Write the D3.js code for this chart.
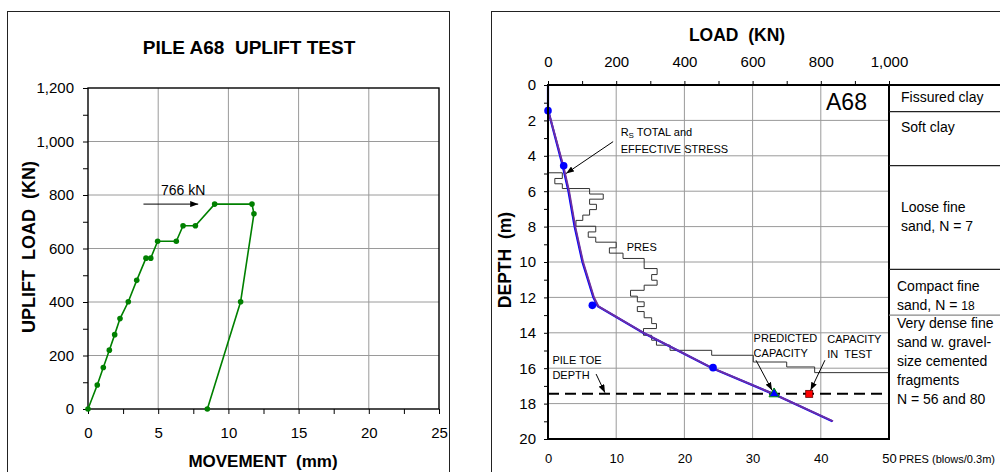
<!DOCTYPE html>
<html lang="en">
<head>
<title>Pile A68 uplift test</title>
<script src="https://d3js.org/d3.v7.min.js"></script>
<style>
    body { margin: 0; background: #fff; }
    svg text { font-family: "Liberation Sans", Arial, sans-serif; fill: #000; }
    .pre { white-space: pre; }
</style>
</head>
<body>
<svg id="chart" width="1000" height="472"></svg>
<script type="text/javascript">

// ---- left chart: uplift load vs movement ----
var movement   = [0, 0.66, 1.09, 1.52, 1.90, 2.28, 2.87, 3.47, 4.13, 4.47, 4.96, 6.29, 6.77, 7.65, 9.02, 11.68, 11.82, 10.87, 8.50];
var upliftLoad = [0, 90, 155, 220, 278, 338, 401, 481, 564, 564, 627, 627, 685, 685, 766, 766, 730, 401, 0];
var loadTicks = [0, 200, 400, 600, 800, 1000, 1200];
var movementTicks = [0, 5, 10, 15, 20, 25];

// ---- right chart: load / PRES vs depth ----
var curveDepth  = [0, 1.4, 4.56, 6, 8, 10, 12, 12.5, 14, 16, 17.45, 19];
var rsTotal     = [0, 0, 43, 60, 78, 101, 133, 146, 279, 482, 660, 834];
var rsEffective = [0, 0, 45, 62, 80, 103, 135, 148, 280, 483, 661, 836];
var pointDepth = [1.45, 4.56, 12.45, 15.97];
var pointLoad  = [0, 46, 130, 484];
var presDepth = [4.96, 4.96, 5.28, 5.58, 5.85, 6.16, 6.45, 6.74, 7.04, 7.35, 7.65, 7.98, 8.30, 8.60, 8.88, 9.20, 9.50, 9.80,
                 10.37, 10.71, 11.03, 11.31, 11.60, 11.93, 12.25, 12.52, 12.80, 13.15, 13.48, 13.76, 14.14, 14.42, 14.70,
                 14.99, 15.27, 15.65, 15.93, 16.25];
var presValue = [0, 2.1, 1.0, 2.1, 6.1, 8.1, 6.1, 7.1, 6.1, 5.1, 4.1, 7.0, 5.9, 7.0, 10.0, 9.0, 11.0, 14.1,
                 16.0, 15.2, 16.0, 14.1, 12.1, 13.1, 14.1, 13.1, 14.1, 15.2, 15.9, 14.0, 15.2, 15.9, 17.9,
                 24.0, 30.1, 35.0, 39.1, 50];
var depthTicks = [0, 2, 4, 6, 8, 10, 12, 14, 16, 18, 20];
var topLoadTicks = [0, 200, 400, 600, 800, 1000];
var presTicks = [0, 10, 20, 30, 40, 50];
var predictedCapacity = 663;
var testCapacity = 766;
var toeDepth = 17.45;
var soilBounds = [0, 1.5, 4.56, 10.42, 13.0];
var soilNames = [["Fissured clay"], ["Soft clay"], ["Loose fine", "sand, N = 7"], ["Compact fine", "sand, N = 18"],
                 ["Very dense fine", "sand w. gravel-", "size cemented", "fragments", "N = 56 and 80"]];

var FONT = '"Liberation Sans", Arial, sans-serif';
var svg = d3.select('#chart');

// arrow head
svg.append('defs').append('marker')
    .attr('id', 'arrow')
    .attr('viewBox', '0 0 8 6')
    .attr('refX', 8).attr('refY', 3)
    .attr('markerWidth', 8).attr('markerHeight', 6)
    .attr('markerUnits', 'userSpaceOnUse')
    .attr('orient', 'auto')
    .append('path').attr('d', 'M0,0 L8,3 L0,6 Z').attr('fill', '#000');

// outer frames
svg.append('rect').attr('x', 7.5).attr('y', 11.5).attr('width', 442).attr('height', 480)
    .attr('fill', 'none').attr('stroke', '#222');
svg.append('rect').attr('x', 491.5).attr('y', 11.5).attr('width', 540).attr('height', 480)
    .attr('fill', 'none').attr('stroke', '#222');

// ================= LEFT CHART =================
var xL = d3.scaleLinear().domain([0, 25]).range([88, 439]);
var yL = d3.scaleLinear().domain([0, 1200]).range([409, 88]);

var left = svg.append('g');

// gridlines
left.selectAll('.vgrid').data(movementTicks.slice(1, -1)).enter().append('line')
    .attr('x1', function (d) { return xL(d); }).attr('x2', function (d) { return xL(d); })
    .attr('y1', yL(0)).attr('y2', yL(1200))
    .attr('stroke', '#9a9a9a');
left.selectAll('.hgrid').data(loadTicks.slice(1, -1)).enter().append('line')
    .attr('x1', xL(0)).attr('x2', xL(25))
    .attr('y1', function (d) { return yL(d); }).attr('y2', function (d) { return yL(d); })
    .attr('stroke', '#9a9a9a');

// axes
var yAxisL = left.append('g').attr('transform', 'translate(' + xL(0) + ',0)')
    .call(d3.axisLeft(yL).tickValues(d3.range(0, 1201, 100)).tickSize(5).tickPadding(9)
        .tickFormat(function (d) { return loadTicks.indexOf(d) >= 0 ? d3.format(',')(d) : ''; }));
var xAxisL = left.append('g').attr('transform', 'translate(0,' + yL(0) + ')')
    .call(d3.axisBottom(xL).tickValues(d3.range(0, 25.1, 2.5)).tickSize(5).tickPadding(13)
        .tickFormat(function (d) { return movementTicks.indexOf(d) >= 0 ? d : ''; }));
[yAxisL, xAxisL].forEach(function (g) {
    g.attr('font-family', FONT).attr('font-size', 15);
    g.select('.domain').remove();
    g.selectAll('line').attr('stroke', '#000');
});

// plot border
left.append('rect').attr('x', xL(0)).attr('y', yL(1200))
    .attr('width', xL(25) - xL(0)).attr('height', yL(0) - yL(1200))
    .attr('fill', 'none').attr('stroke', '#000').attr('stroke-width', 1.4);

// data line + markers
var pts = movement.map(function (m, i) { return [m, upliftLoad[i]]; });
left.append('path').datum(pts)
    .attr('fill', 'none').attr('stroke', '#008000').attr('stroke-width', 1.6)
    .attr('d', d3.line().x(function (d) { return xL(d[0]); }).y(function (d) { return yL(d[1]); }));
left.selectAll('.pt').data(pts).enter().append('circle')
    .attr('cx', function (d) { return xL(d[0]); }).attr('cy', function (d) { return yL(d[1]); })
    .attr('r', 2.8).attr('fill', '#008000');

// 766 kN annotation
left.append('line')
    .attr('x1', xL(3.95)).attr('x2', xL(7.85)).attr('y1', yL(testCapacity)).attr('y2', yL(testCapacity))
    .attr('stroke', '#000').attr('stroke-width', 1).attr('marker-end', 'url(#arrow)');
left.append('text').attr('x', xL(5.2)).attr('y', yL(testCapacity) - 9)
    .attr('font-size', 14).text(testCapacity + ' kN');

// titles
left.append('text').attr('class', 'pre').attr('x', 249).attr('y', 54)
    .attr('text-anchor', 'middle').attr('font-size', 19).attr('font-weight', 'bold')
    .text('PILE A68  UPLIFT TEST');
left.append('text').attr('class', 'pre').attr('x', 263).attr('y', 467)
    .attr('text-anchor', 'middle').attr('font-size', 17).attr('font-weight', 'bold')
    .text('MOVEMENT  (mm)');
left.append('text').attr('class', 'pre')
    .attr('transform', 'translate(35,' + 247 + ') rotate(-90)')
    .attr('text-anchor', 'middle').attr('font-size', 18).attr('font-weight', 'bold')
    .text('UPLIFT  LOAD  (KN)');

// ================= RIGHT CHART =================
var xLoad = d3.scaleLinear().domain([0, 1000]).range([548, 889]);
var xPres = d3.scaleLinear().domain([0, 50]).range([548, 889]);
var yDepth = d3.scaleLinear().domain([0, 20]).range([85, 439]);

var right = svg.append('g');

// gridlines
right.selectAll('.vgrid').data(topLoadTicks.slice(1, -1)).enter().append('line')
    .attr('x1', function (d) { return xLoad(d); }).attr('x2', function (d) { return xLoad(d); })
    .attr('y1', yDepth(0)).attr('y2', yDepth(20))
    .attr('stroke', '#9a9a9a');
right.selectAll('.hgrid').data(depthTicks.slice(1, -1)).enter().append('line')
    .attr('x1', xLoad(0)).attr('x2', xLoad(1000))
    .attr('y1', function (d) { return yDepth(d); }).attr('y2', function (d) { return yDepth(d); })
    .attr('stroke', '#9a9a9a');

// axes
var topAxis = right.append('g').attr('transform', 'translate(0,' + yDepth(0) + ')')
    .call(d3.axisTop(xLoad).tickValues(d3.range(0, 1001, 100)).tickSize(4).tickPadding(14)
        .tickFormat(function (d) { return topLoadTicks.indexOf(d) >= 0 ? d3.format(',')(d) : ''; }));
var depthAxis = right.append('g').attr('transform', 'translate(' + xLoad(0) + ',0)')
    .call(d3.axisLeft(yDepth).tickValues(d3.range(0, 21, 1)).tickSize(4).tickPadding(8)
        .tickFormat(function (d) { return depthTicks.indexOf(d) >= 0 ? d : ''; }));
var presAxis = right.append('g').attr('transform', 'translate(0,' + yDepth(20) + ')')
    .call(d3.axisBottom(xPres).tickValues(presTicks).tickSize(0).tickPadding(15));
[topAxis, depthAxis, presAxis].forEach(function (g) {
    g.attr('font-family', FONT).attr('font-size', 15);
    g.select('.domain').remove();
    g.selectAll('line').attr('stroke', '#000');
});
presAxis.attr('font-size', 13);
right.append('text').attr('x', xPres(50) + 10).attr('y', yDepth(20) + 24)
    .attr('font-size', 11).text('PRES (blows/0.3m)');

// PRES step profile
var presPts = presDepth.map(function (d, i) { return [presValue[i], d]; });
right.append('path').datum(presPts)
    .attr('fill', 'none').attr('stroke', '#333').attr('stroke-width', 1)
    .attr('d', d3.line().curve(d3.curveStepBefore)
        .x(function (d) { return xPres(d[0]); }).y(function (d) { return yDepth(d[1]); }));

// pile toe depth
right.append('line')
    .attr('x1', xLoad(0)).attr('x2', xLoad(1000)).attr('y1', yDepth(toeDepth)).attr('y2', yDepth(toeDepth))
    .attr('stroke', '#000').attr('stroke-width', 2).attr('stroke-dasharray', '11,6');

// resistance curves
var lineR = d3.line().x(function (d) { return xLoad(d[0]); }).y(function (d) { return yDepth(d[1]); });
right.append('path').datum(rsTotal.map(function (v, i) { return [v, curveDepth[i]]; }))
    .attr('fill', 'none').attr('stroke', '#0000ff').attr('stroke-width', 2.2).attr('d', lineR);
right.append('path').datum(rsEffective.map(function (v, i) { return [v, curveDepth[i]]; }))
    .attr('fill', 'none').attr('stroke', '#7030a0').attr('stroke-width', 1.8).attr('d', lineR);

right.selectAll('.dot').data(pointLoad).enter().append('circle')
    .attr('cx', function (d) { return xLoad(d); })
    .attr('cy', function (d, i) { return yDepth(pointDepth[i]); })
    .attr('r', 3.8).attr('fill', '#0000ff');

// predicted capacity (triangle) and test capacity (square)
right.append('path')
    .attr('transform', 'translate(' + xLoad(predictedCapacity) + ',' + yDepth(toeDepth) + ')')
    .attr('d', d3.symbol().type(d3.symbolTriangle).size(45))
    .attr('fill', '#0000ff').attr('stroke', '#009000').attr('stroke-width', 1);
right.append('rect')
    .attr('x', xLoad(testCapacity) - 3.5).attr('y', yDepth(toeDepth) - 3.5)
    .attr('width', 7).attr('height', 7)
    .attr('fill', '#ff0000').attr('stroke', '#600').attr('stroke-width', 0.8);

// plot border
right.append('rect').attr('x', xLoad(0)).attr('y', yDepth(0))
    .attr('width', xLoad(1000) - xLoad(0)).attr('height', yDepth(20) - yDepth(0))
    .attr('fill', 'none').attr('stroke', '#000').attr('stroke-width', 2);

// soil column
right.append('line').attr('x1', xLoad(1000)).attr('x2', 1000)
    .attr('y1', yDepth(0)).attr('y2', yDepth(0)).attr('stroke', '#000').attr('stroke-width', 2);
right.selectAll('.soil').data(soilBounds.slice(1)).enter().append('line')
    .attr('x1', xLoad(1000)).attr('x2', 1000)
    .attr('y1', function (d) { return yDepth(d); }).attr('y2', function (d) { return yDepth(d); })
    .attr('stroke', function (d, i) { return i === 3 ? '#888' : '#222'; }).attr('stroke-width', 1.2);

// first text baseline in each layer (depth units)
var soilTextDepth = [0.95, 2.63, 7.15, 11.62, 13.75];
soilNames.forEach(function (lines, i) {
    var t = right.append('text')
        .attr('x', i >= 3 ? 897 : 901)
        .attr('y', yDepth(soilTextDepth[i]))
        .attr('font-size', 14);
    lines.forEach(function (s, j) {
        var sp = t.append('tspan').attr('x', i >= 3 ? 897 : 901).attr('dy', j === 0 ? 0 : 19);
        if (s === 'sand, N = 18') {
            sp.text('sand, N = ');
            t.append('tspan').attr('font-size', 12).text('18');
        } else {
            sp.text(s);
        }
    });
});

// labels
right.append('text').attr('x', xLoad(1000) - 63).attr('y', yDepth(1.43))
    .attr('font-size', 23).text('A68');
right.append('text').attr('class', 'pre').attr('x', 737).attr('y', 41)
    .attr('text-anchor', 'middle').attr('font-size', 17.5).attr('font-weight', 'bold')
    .text('LOAD  (KN)');
right.append('text').attr('class', 'pre')
    .attr('transform', 'translate(511,260) rotate(-90)')
    .attr('text-anchor', 'middle').attr('font-size', 17.5).attr('font-weight', 'bold')
    .text('DEPTH  (m)');

// annotations with arrows
function note(lines, load, depth, lineGap) {
    var t = right.append('text').attr('class', 'pre').attr('font-size', 11)
        .attr('x', xLoad(load)).attr('y', yDepth(depth));
    lines.forEach(function (s, j) {
        t.append('tspan').attr('x', xLoad(load)).attr('dy', j === 0 ? 0 : lineGap).text(s);
    });
    return t;
}
function arrow(l1, d1, l2, d2) {
    right.append('line')
        .attr('x1', xLoad(l1)).attr('y1', yDepth(d1))
        .attr('x2', xLoad(l2)).attr('y2', yDepth(d2))
        .attr('stroke', '#000').attr('stroke-width', 1).attr('marker-end', 'url(#arrow)');
}

var rs = right.append('text').attr('font-size', 11).attr('x', xLoad(213)).attr('y', yDepth(2.9));
rs.append('tspan').text('R');
rs.append('tspan').attr('font-size', 8).attr('dy', 2).text('S');
rs.append('tspan').attr('dy', -2).text(' TOTAL and');
right.append('text').attr('font-size', 11).attr('x', xLoad(213)).attr('y', yDepth(3.85)).text('EFFECTIVE STRESS');
arrow(191, 3.2, 53, 5.0);

note(['PRES'], 231, 9.38, 0);
note(['PREDICTED', 'CAPACITY'], 603, 14.52, 15);
arrow(610, 15.55, 657, 17.25);
note(['CAPACITY', 'IN  TEST'], 819, 14.58, 15);
arrow(812, 15.55, 770, 17.25);
note(['PILE TOE', 'DEPTH'], 13, 15.76, 15);
arrow(141, 16.33, 167, 17.38);

</script>
</body>
</html>
